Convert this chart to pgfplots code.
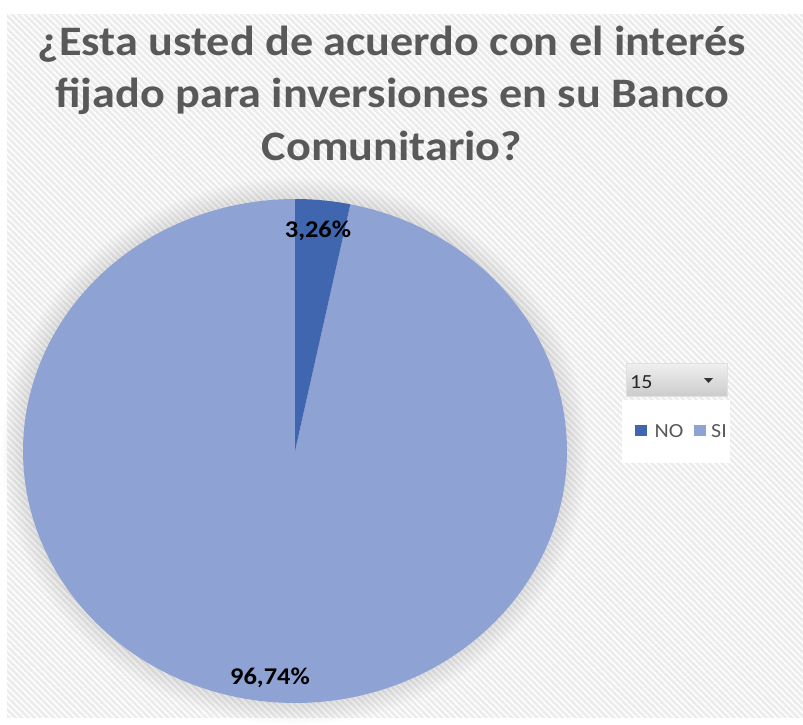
\documentclass[border=0pt]{standalone}
\usepackage{pgfplots}
\pgfplotsset{compat=1.18}
\usepackage{pgfplotstable}
\usetikzlibrary{patterns.meta}
\usepackage{fontspec}
\setmainfont{Carlito}
\definecolor{noblue}{HTML}{4066AF}
\definecolor{siblue}{HTML}{8FA2D4}
\definecolor{titlegray}{HTML}{595959}
\definecolor{bggray}{HTML}{ECECEC}

\pgfplotstableread{
label value
NO 3.26
SI 96.74
}\piedata
\pgfplotstablegetelem{0}{value}\of\piedata
\let\vNO\pgfplotsretval
\pgfmathsetmacro{\aNO}{90-3.6*\vNO}
\newcommand{\sx}[1]{\scalebox{1.1}[1]{#1}}

\begin{document}
\begin{tikzpicture}
\begin{axis}[
  width=803pt, height=718pt, scale only axis,
  xmin=0, xmax=803, ymin=0, ymax=718, y dir=reverse,
  hide axis, clip=false,
]
% background
\addplot[fill=white, draw=none] coordinates {(0,0) (803,0) (803,718) (0,718)} -- cycle;
\addplot[fill=bggray, draw=none] coordinates {(7,14) (803,14) (803,718) (7,718)} -- cycle;
\addplot[draw=none, pattern={Lines[angle=-45, distance=4.5pt, line width=1.5pt]}, pattern color=white]
  coordinates {(7,14) (803,14) (803,718) (7,718)} -- cycle;
% soft shadow
\pgfplotsinvokeforeach{12,11,...,1}{
  \addplot[fill=black, fill opacity=0.009, draw=none, domain=0:360, samples=120]
    ({295+(272+1.8*#1)*cos(x)},{451-(252+1.8*#1)*sin(x)}) -- cycle;
}
% pie
\addplot[fill=siblue, draw=none, domain=-270:\aNO, samples=200]
  ({295+272*cos(x)},{451-252*sin(x)}) -- (axis cs:295,451) -- cycle;
\addplot[fill=noblue, draw=none, domain=\aNO:90, samples=20]
  ({295+272*cos(x)},{451-252*sin(x)}) -- (axis cs:295,451) -- cycle;
% labels
\node[font=\bfseries\fontsize{24}{28}\selectfont, anchor=base] at (axis cs:318,237) {\sx{3,26\%}};
\node[font=\bfseries\fontsize{24}{28}\selectfont, anchor=base] at (axis cs:270,684) {\sx{96,74\%}};
% title
\node[font=\bfseries\fontsize{42}{50}\selectfont, text=titlegray, anchor=base] at (axis cs:392,55) {\sx{¿Esta usted de acuerdo con el interés}};
\node[font=\bfseries\fontsize{42}{50}\selectfont, text=titlegray, anchor=base] at (axis cs:392,107.5) {\sx{fijado para inversiones en su Banco}};
\node[font=\bfseries\fontsize{42}{50}\selectfont, text=titlegray, anchor=base] at (axis cs:392,160) {\sx{Comunitario?}};
% filter box and legend
\fill[white] (axis cs:622,400) rectangle (axis cs:730,463);
\shade[top color=black!6, bottom color=black!20] (axis cs:626,363) rectangle (axis cs:727,396);
\draw[black!12] (axis cs:626,363) rectangle (axis cs:727,396);
\node[font=\fontsize{20}{24}\selectfont, text=black!85, anchor=base west, inner sep=0pt] at (axis cs:630,388) {\sx{15}};
\fill[black!80] (axis cs:704,378) -- (axis cs:713,378) -- (axis cs:708.5,383) -- cycle;
\fill[noblue] (axis cs:635,425) rectangle (axis cs:647,436);
\node[font=\fontsize{20}{24}\selectfont, text=titlegray, anchor=base west, inner sep=0pt] at (axis cs:654.5,437) {\sx{NO}};
\fill[siblue] (axis cs:694,425) rectangle (axis cs:706,436);
\node[font=\fontsize{20}{24}\selectfont, text=titlegray, anchor=base west, inner sep=0pt] at (axis cs:711,437) {\sx{SI}};
\end{axis}
\end{tikzpicture}
\end{document}
